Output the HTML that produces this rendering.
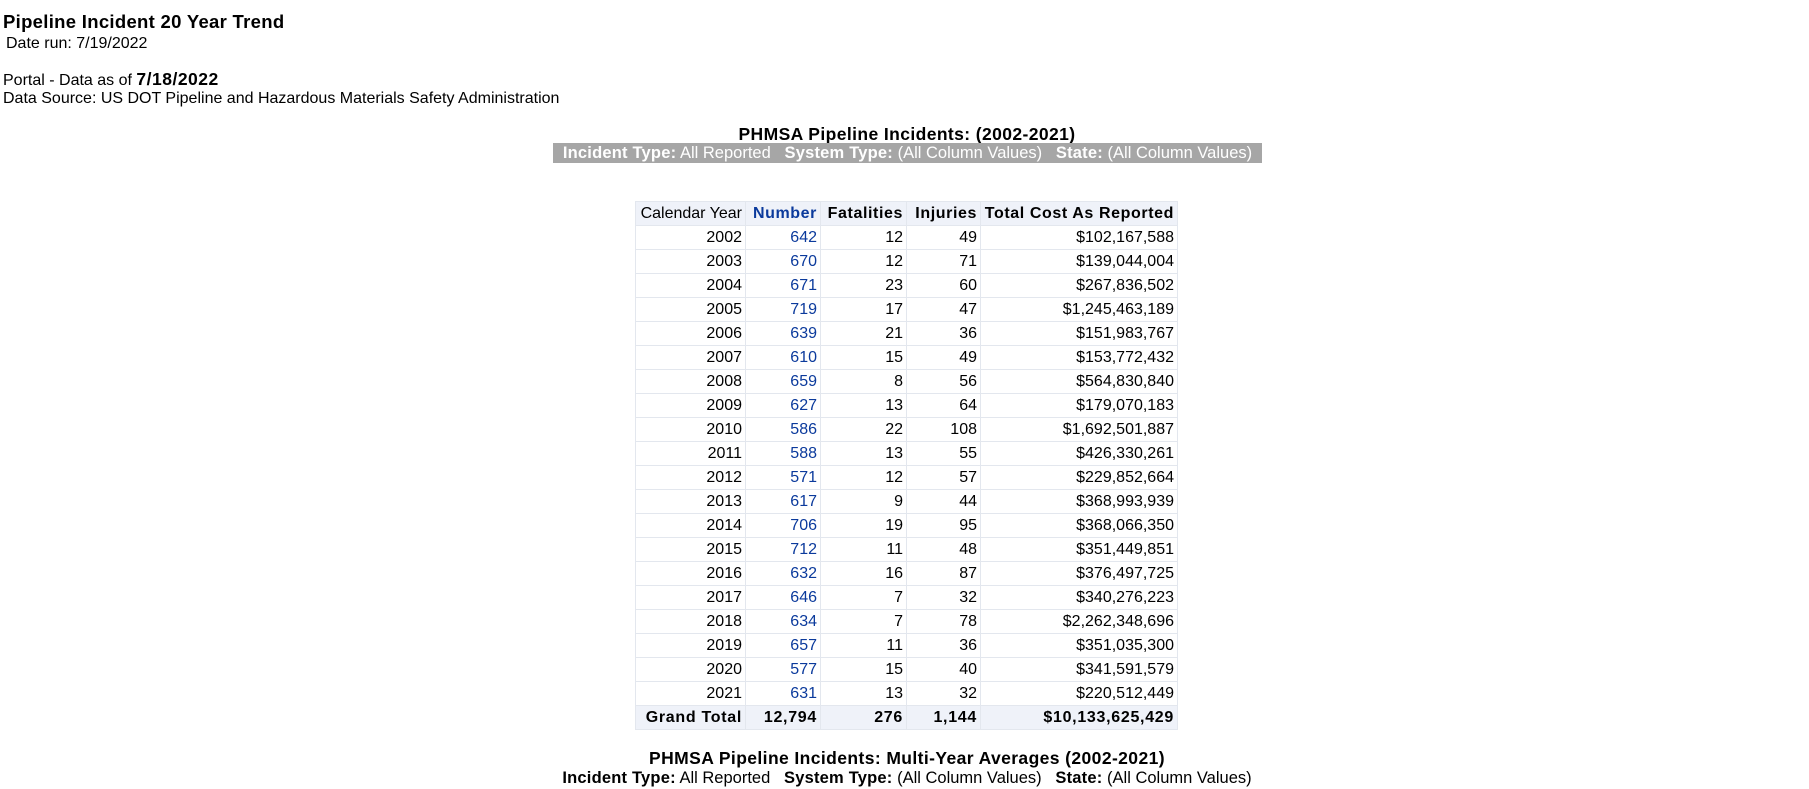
<!DOCTYPE html>
<html><head><meta charset="utf-8">
<style>
body{margin:0;width:1809px;height:789px;background:#fff;font-family:"Liberation Sans",sans-serif;color:#000;position:relative;overflow:hidden}
.a{position:absolute;white-space:nowrap;font-size:16px;line-height:20px}
table{position:absolute;left:635px;top:201px;border-collapse:collapse;table-layout:fixed;font-size:16px}
td,th{border:1px solid #e3e7ee;padding:0 3px;height:23px;text-align:right;white-space:nowrap;overflow:hidden}
th{background:#eff2f9;font-weight:bold;letter-spacing:0.6px}
th:first-child{font-weight:normal;letter-spacing:0}
.n{color:#0b3a9c}
tr.tot td{background:#eff2f9;font-weight:bold;letter-spacing:0.7px}
.bar{position:absolute;left:553px;top:143px;width:709px;height:20px;background:#a6a6a6;color:#fff;font-size:16.5px;line-height:20px;white-space:nowrap;text-align:center}
.f b{letter-spacing:0.2px}
</style></head><body>
<div class="a" style="left:3px;top:12px;font-weight:bold;font-size:18.5px;letter-spacing:0.3px">Pipeline Incident 20 Year Trend</div>
<div class="a" style="left:6px;top:34px">Date run: 7/19/2022</div>
<div class="a" style="left:3px;top:69px">Portal - Data as of <b style="font-size:17.5px;letter-spacing:0.5px">7/18/2022</b></div>
<div class="a" style="left:3px;top:89px">Data Source: US DOT Pipeline and Hazardous Materials Safety Administration</div>
<div class="a" style="left:0;width:1814px;text-align:center;top:124px;font-weight:bold;font-size:17.5px;letter-spacing:0.4px">PHMSA Pipeline Incidents: (2002-2021)</div>
<div class="bar f"><b>Incident Type:</b> All Reported &nbsp;&nbsp;<b>System Type:</b> (All Column Values) &nbsp;&nbsp;<b>State:</b> (All Column Values)</div>
<table>
<colgroup><col style="width:110px"><col style="width:75px"><col style="width:86px"><col style="width:74px"><col style="width:197px"></colgroup>
<thead><tr><th>Calendar Year</th><th class="n">Number</th><th>Fatalities</th><th>Injuries</th><th>Total Cost As Reported</th></tr></thead>
<tbody id="tb"></tbody>
</table>
<div class="a" style="left:0;width:1814px;text-align:center;top:748px;font-weight:bold;font-size:17.5px;letter-spacing:0.4px">PHMSA Pipeline Incidents: Multi-Year Averages (2002-2021)</div>
<div class="a f" style="left:0;width:1814px;text-align:center;top:768px;font-size:16.5px"><b>Incident Type:</b> All Reported &nbsp;&nbsp;<b>System Type:</b> (All Column Values) &nbsp;&nbsp;<b>State:</b> (All Column Values)</div>
<script>
const years=[2002,2003,2004,2005,2006,2007,2008,2009,2010,2011,2012,2013,2014,2015,2016,2017,2018,2019,2020,2021];
const numbers=[642,670,671,719,639,610,659,627,586,588,571,617,706,712,632,646,634,657,577,631];
const fatalities=[12,12,23,17,21,15,8,13,22,13,12,9,19,11,16,7,7,11,15,13];
const injuries=[49,71,60,47,36,49,56,64,108,55,57,44,95,48,87,32,78,36,40,32];
const costs=[102167588,139044004,267836502,1245463189,151983767,153772432,564830840,179070183,1692501887,426330261,229852664,368993939,368066350,351449851,376497725,340276223,2262348696,351035300,341591579,220512449];
const totals=["12,794","276","1,144","$10,133,625,429"];
const fmt=v=>v.toLocaleString('en-US');
const tb=document.getElementById('tb');
years.forEach((y,i)=>{
 const tr=document.createElement('tr');
 
 
 tr.innerHTML='<td>'+y+'</td><td class="n">'+numbers[i]+'</td><td>'+fatalities[i]+'</td><td>'+injuries[i]+'</td><td>$'+fmt(costs[i])+'</td>';
 tb.appendChild(tr);
});
const t=document.createElement('tr');
t.className='tot';


t.innerHTML='<td>Grand Total</td><td>'+totals[0]+'</td><td>'+totals[1]+'</td><td>'+totals[2]+'</td><td>'+totals[3]+'</td>';
tb.appendChild(t);
</script>
</body></html>
